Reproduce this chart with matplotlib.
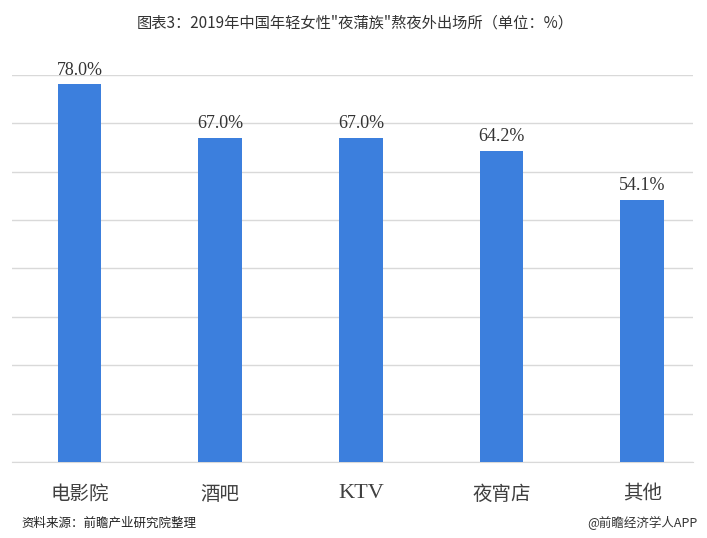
import matplotlib
matplotlib.use('Agg')
import matplotlib.pyplot as plt

# data
categories = ['电影院', '酒吧', 'KTV', '夜宵店', '其他']
values = [78.0, 67.0, 67.0, 64.2, 54.1]

plt.rcParams['font.family'] = ['Noto Sans CJK SC', 'DejaVu Sans']

fig = plt.figure(figsize=(7.07, 5.38), dpi=100)
ax = fig.add_axes([0.017, 0.141, 0.963, 0.72])

x = range(len(categories))
bars = ax.bar(x, values, width=0.31, color='#3c7fdd', zorder=3)

ax.set_ylim(0, 80)
ax.set_xlim(-0.48, 4.36)
ax.set_yticks(range(0, 81, 10))
ax.yaxis.grid(True, color='#d9d9d9', linewidth=1, zorder=0)
ax.tick_params(left=False, bottom=False, labelleft=False)
for s in ['top', 'right', 'left']:
    ax.spines[s].set_visible(False)
ax.spines['bottom'].set_color('#d9d9d9')

ax.set_xticks(list(x))
ax.set_xticklabels(categories, fontsize=14, color='#404040')
for lab in ax.get_xticklabels():
    if lab.get_text().isascii():
        lab.set_fontfamily('Liberation Serif')
        lab.set_fontsize(16)
ax.tick_params(axis='x', pad=12)

for b, v in zip(bars, values):
    ax.text(b.get_x() + b.get_width() / 2, v + 1.2, f'{v:.1f}%',
            ha='center', va='bottom', fontsize=13, color='#333333',
            family='Liberation Serif')

fig.text(0.502, 0.957, '图表3：2019年中国年轻女性"夜蒲族"熬夜外出场所（单位：%）',
         ha='center', va='center', fontsize=11, color='#333333')
fig.text(0.03, 0.028, '资料来源：前瞻产业研究院整理', ha='left', va='center',
         fontsize=9, style='italic', color='#222222')
fig.text(0.986, 0.028, '@前瞻经济学人APP', ha='right', va='center',
         fontsize=9, color='#333333')

fig.savefig('out.png', dpi=100)
